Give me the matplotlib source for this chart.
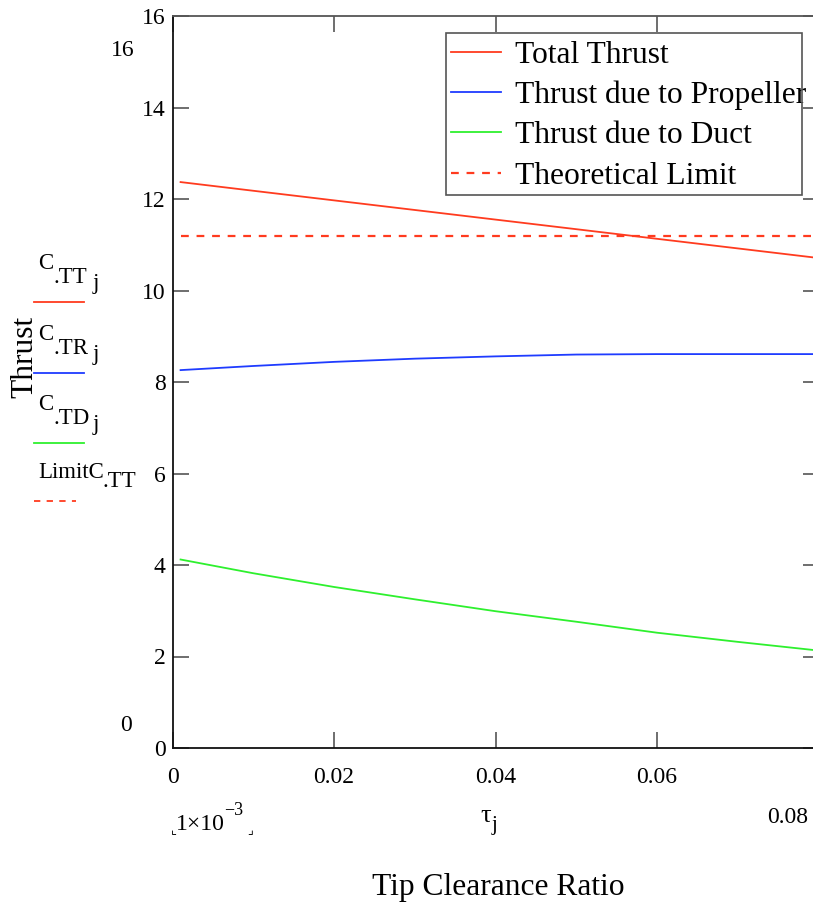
import matplotlib
matplotlib.use("Agg")
import matplotlib.pyplot as plt
from matplotlib.patches import Rectangle

# data
tau = [0.001, 0.01, 0.02, 0.03, 0.04, 0.05, 0.06, 0.07, 0.08]
c_tt = [12.37, 12.18, 11.97, 11.76, 11.55, 11.34, 11.13, 10.92, 10.71]
c_tr = [8.26, 8.35, 8.44, 8.51, 8.56, 8.60, 8.61, 8.61, 8.61]
c_td = [4.12, 3.82, 3.52, 3.25, 2.99, 2.76, 2.52, 2.32, 2.13]
limit_c_tt = 11.19

x_ticks = [0, 0.02, 0.04, 0.06]
x_tick_labels = ["0", "0.02", "0.04", "0.06"]
y_ticks = [0, 2, 4, 6, 8, 10, 12, 14, 16]
legend_labels = ["Total Thrust", "Thrust due to Propeller", "Thrust due to Duct", "Theoretical Limit"]

RED = "#ff3b1f"
BLUE = "#1f3cff"
GREEN = "#2ef02e"

plt.rcParams["font.family"] = ["Liberation Serif", "DejaVu Sans"]

W, H = 813, 909
fig = plt.figure(figsize=(W / 100, H / 100), dpi=100)
# the right edge of the plot runs a little past the picture
ax = fig.add_axes([172.5 / W, 1 - 748 / H, 646 / W, 732 / H])


def ftext(x, y, s, **kw):
    # place text in figure pixels, y measured from the top
    return fig.text(x / W, 1 - y / H, s, **kw)


l1, = ax.plot(tau, c_tt, color=RED, lw=1.3)
l2, = ax.plot(tau, c_tr, color=BLUE, lw=1.3)
l3, = ax.plot(tau, c_td, color=GREEN, lw=1.3)
l4 = ax.axhline(limit_c_tt, xmin=0.001 / 0.08, color=RED, lw=1.6, ls=(0, (3.5, 3.5)))

ax.set_xlim(0, 0.08)
ax.set_ylim(0, 16)
ax.set_xticks(x_ticks)
ax.set_xticklabels(x_tick_labels)
ax.set_yticks(y_ticks)
ax.tick_params(direction="in", length=11.5, width=1.2, color="#555555",
               labelsize=17, top=True, right=True)
ax.tick_params(axis="x", pad=13.5)
ax.tick_params(axis="y", pad=5)
for side in ["left", "bottom"]:
    ax.spines[side].set_color("#111111")
for side in ["top", "right"]:
    ax.spines[side].set_color("#555555")
for sp in ax.spines.values():
    sp.set_linewidth(1.3)

leg = ax.legend([l1, l2, l3, l4], legend_labels, loc="upper left",
                bbox_to_anchor=(446 / W, 1 - 36 / H), bbox_transform=fig.transFigure,
                fontsize=22.7, frameon=False, borderaxespad=0,
                borderpad=0.15, handlelength=1.6, handletextpad=0.45,
                labelspacing=0.35)
# Mathcad draws the legend box a bit narrower than its text
fig.add_artist(Rectangle((446 / W, 1 - 195 / H), 356 / W, 162 / H, fill=False,
                         edgecolor="#555555", lw=1.2, zorder=5))

# axis limit labels, Mathcad style
ftext(111, 56, "16", fontsize=17, va="baseline")
ftext(120, 731, "0", fontsize=17, va="baseline")
ftext(808, 823, "0.08", fontsize=17, va="baseline", ha="right")
ftext(176, 830, "1\u00d710", fontsize=17, va="baseline")
ftext(224, 815, "\u22123", fontsize=13, va="baseline")
ftext(171, 834, "\u231e", fontsize=9, va="baseline", family="DejaVu Sans")
ftext(247, 834, "\u231f", fontsize=9, va="baseline", family="DejaVu Sans")
ftext(480, 822, "\u03c4", fontsize=19, va="baseline")
ftext(492, 830, "j", fontsize=15, va="baseline")

ftext(498, 895, "Tip Clearance Ratio", fontsize=22.7, va="baseline", ha="center")
ftext(25, 357, "Thrust", fontsize=22.7, rotation=90, va="center", ha="center")

# trace names on the left
rows = [(".TT", "C", 269, RED), (".TR", "C", 340, BLUE), (".TD", "C", 410, GREEN)]
for sub, main, base, col in rows:
    ftext(38, base, main, fontsize=16.5, va="baseline")
    ftext(53, base + 14, sub, fontsize=16.5, va="baseline")
    ftext(93, base + 20, "j", fontsize=16.5, va="baseline")
    fig.add_artist(plt.Line2D([34 / W, 84 / W], [1 - (base + 33) / H] * 2,
                              color=col, lw=1.3))
ftext(38, 478, "LimitC", fontsize=16.5, va="baseline")
ftext(102, 487, ".TT", fontsize=16.5, va="baseline")
fig.add_artist(plt.Line2D([34 / W, 76 / W], [1 - 501 / H] * 2, color=RED, lw=1.3,
                          ls=(0, (3.5, 3.5))))

fig.savefig("out.png", dpi=100)
